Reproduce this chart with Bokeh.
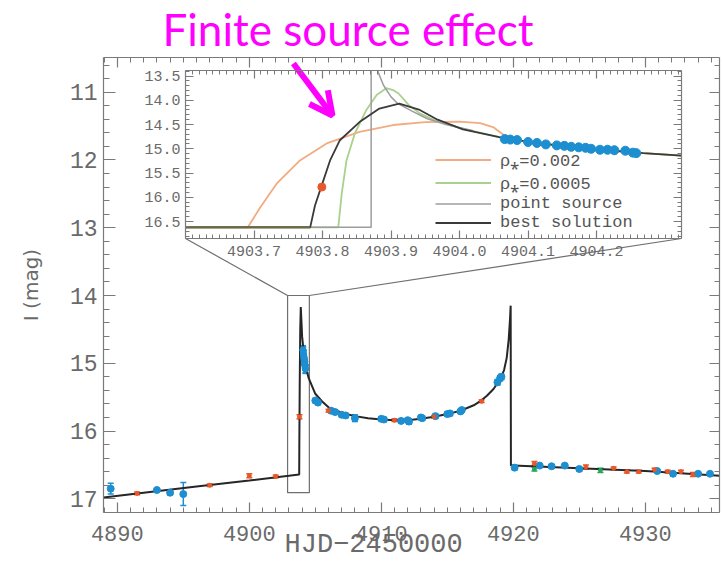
import numpy as np
from bokeh.plotting import figure
from bokeh.models import (Range1d, LinearAxis, SingleIntervalTicker, FixedTicker,
                          PrintfTickFormatter, CustomJSTickFormatter, Whisker, TeeHead,
                          ColumnDataSource, Arrow, OpenHead, Legend, LegendItem, Title)
from bokeh.layouts import column
from bokeh.embed import file_html
from bokeh.resources import INLINE

# ---------------- data: main light curve ----------------
model_x = [4888.955, 4892.0, 4896.0, 4900.0, 4903.0, 4903.78, 4903.79, 4903.82, 4903.86, 4903.9,
           4904.0, 4904.2, 4904.5, 4905.0, 4905.5, 4906.0, 4907.0, 4908.0, 4909.0, 4910.0,
           4911.0, 4912.0, 4913.0, 4914.0, 4915.0, 4916.0, 4917.0, 4917.5, 4918.0, 4918.5,
           4919.0, 4919.3, 4919.5, 4919.65, 4919.75, 4919.8, 4919.82, 4920.0, 4925.0, 4930.0, 4935.62]
model_y = [16.98, 16.91, 16.82, 16.73, 16.66, 16.64, 16.2, 15.3, 14.5, 14.17,
           14.6, 15.0, 15.22, 15.45, 15.56, 15.65, 15.73, 15.78, 15.81, 15.83,
           15.84, 15.84, 15.82, 15.79, 15.75, 15.70, 15.62, 15.56, 15.48, 15.38,
           15.24, 15.10, 14.92, 14.65, 14.35, 14.15, 16.51, 16.51, 16.55, 16.59, 16.66]

blue_x = [4889.5, 4893.0, 4894.0, 4895.0, 4905.0, 4905.2, 4906.2, 4906.5, 4907.0, 4907.3,
          4908.0, 4910.0, 4910.2, 4911.5, 4912.0, 4912.1, 4913.0, 4913.1, 4914.1, 4915.0,
          4915.2, 4916.0, 4916.1, 4918.8, 4919.0, 4919.1, 4920.1, 4922.0, 4922.9, 4923.9,
          4925.0, 4930.9, 4932.1, 4934.0, 4934.9]
blue_y = [16.85, 16.87, 16.91, 16.93, 15.55, 15.58, 15.70, 15.72, 15.76, 15.77,
          15.81, 15.82, 15.83, 15.85, 15.84, 15.86, 15.80, 15.81, 15.78, 15.75,
          15.74, 15.71, 15.69, 15.28, 15.22, 15.20, 16.54, 16.51, 16.52, 16.51,
          16.56, 16.59, 16.63, 16.63, 16.63]
blue_err = [0.08, 0.02, 0.03, 0.17, 0.03, 0.03, 0.03, 0.03, 0.03, 0.03,
            0.05, 0.03, 0.03, 0.03, 0.03, 0.04, 0.03, 0.03, 0.03, 0.03,
            0.03, 0.03, 0.03, 0.04, 0.04, 0.04, 0.03, 0.02, 0.02, 0.02,
            0.03, 0.02, 0.03, 0.02, 0.02]

orange_x = [4891.5, 4897.0, 4900.0, 4902.0, 4903.8, 4906.0, 4911.0, 4914.0, 4917.6, 4921.6,
            4925.5, 4927.6, 4928.6, 4929.5, 4930.7, 4931.7, 4932.7, 4933.6]
orange_y = [16.92, 16.80, 16.66, 16.67, 15.79, 15.70, 15.84, 15.79, 15.56, 16.48,
            16.53, 16.55, 16.60, 16.60, 16.57, 16.60, 16.60, 16.64]
orange_err = [0.02, 0.02, 0.03, 0.02, 0.03, 0.02, 0.02, 0.02, 0.02, 0.03,
              0.03, 0.02, 0.02, 0.02, 0.02, 0.02, 0.02, 0.03]

green_x = [4921.6, 4926.6]
green_y = [16.56, 16.58]
green_err = [0.03, 0.03]

# ---------------- data: inset (caustic entrance) ----------------
best_x = [4903.6, 4903.782, 4903.789, 4903.798, 4903.811, 4903.825, 4903.854, 4903.883, 4903.912,
          4903.942, 4903.968, 4904.005, 4904.058, 4904.111, 4904.163, 4904.216, 4904.268, 4904.324]
best_y = [16.62, 16.62, 16.17, 15.79, 15.24, 14.83, 14.45, 14.17, 14.07,
          14.2, 14.4, 14.6, 14.76, 14.88, 14.96, 15.03, 15.09, 15.14]

rho2_x = [4903.6, 4903.691, 4903.709, 4903.733, 4903.767, 4903.806, 4903.854, 4903.903,
          4903.95, 4904.0, 4904.03, 4904.05, 4904.065, 4904.09, 4904.111, 4904.163, 4904.216,
          4904.268, 4904.324]
rho2_y = [16.62, 16.62, 16.21, 15.72, 15.24, 14.89, 14.65, 14.51,
          14.45, 14.44, 14.47, 14.56, 14.72, 14.83, 14.88, 14.96, 15.03, 15.09, 15.14]

rho05_x = [4903.6, 4903.823, 4903.828, 4903.835, 4903.847, 4903.864, 4903.879, 4903.893,
           4903.903, 4903.911, 4903.926, 4903.942, 4903.963, 4904.0, 4904.058, 4904.111,
           4904.163, 4904.216, 4904.268, 4904.324]
rho05_y = [16.62, 16.62, 15.93, 15.24, 14.69, 14.20, 13.89, 13.75,
           13.79, 13.86, 14.10, 14.27, 14.41, 14.57, 14.76, 14.88,
           14.96, 15.03, 15.09, 15.14]

ps_x1 = [4903.6, 4903.871, 4903.871]
ps_y1 = [16.62, 16.62, 13.2]
ps_x2 = [4903.877, 4903.882, 4903.889, 4903.9, 4903.91, 4903.93, 4903.953, 4903.98, 4904.02]
ps_y2 = [13.2, 13.45, 13.69, 13.93, 14.07, 14.22, 14.38, 14.5, 14.63]

inset_blue_x = [4904.066, 4904.074, 4904.084, 4904.1, 4904.113, 4904.126, 4904.142, 4904.153,
                4904.163, 4904.174, 4904.184, 4904.192, 4904.205, 4904.216, 4904.226, 4904.242,
                4904.253, 4904.258]
inset_blue_y = [14.80, 14.81, 14.82, 14.86, 14.88, 14.91, 14.93, 14.94,
                14.96, 14.97, 14.98, 15.00, 15.02, 15.02, 15.03, 15.04, 15.08, 15.09]
inset_orange_x = [4903.799]
inset_orange_y = [15.79]

legend_labels = ["\u03c1\u204e=0.002", "\u03c1\u204e=0.0005", "point source", "best solution"]
inset_xticks = [4903.7, 4903.8, 4903.9, 4904.0, 4904.1, 4904.2]
x_title = "HJD\u22122450000"

# zoom box and connector (main-plot data coords)
zoom_box = dict(left=4902.9, right=4904.55, top=14.0, bottom=16.91)
inset_corner_left = (4895.17, 13.159)
inset_corner_right = (4932.74, 13.159)
arrow_start = (4903.34, 10.577)
arrow_end = (4906.30, 11.344)

# ---------------- styles ----------------
BLUE = "#1d8fd1"
ORANGE = "#e8572a"
GREEN = "#27a35a"
AX = "#7a7a7a"
TXT = "#6a6a6a"
FONT = "Liberation Mono"


def style_axis(ax, major_in, minor_in, font_size, labels=True):
    ax.major_tick_in = major_in
    ax.major_tick_out = 0
    ax.minor_tick_in = minor_in
    ax.minor_tick_out = 0
    ax.axis_line_color = AX
    ax.major_tick_line_color = AX
    ax.minor_tick_line_color = AX
    ax.axis_line_width = 1.2
    ax.major_tick_line_width = 1.2
    ax.minor_tick_line_width = 1
    ax.major_label_text_font = FONT
    ax.major_label_text_color = TXT
    ax.major_label_text_font_size = font_size
    if not labels:
        ax.formatter = CustomJSTickFormatter(code="return ''")
        ax.major_label_text_font_size = "0px"
        ax.major_label_standoff = 0


# ---------------- main figure ----------------
p = figure(width=721, height=562, output_backend="svg", toolbar_location=None,
           x_range=Range1d(4888.955, 4935.62), y_range=Range1d(17.202, 10.488),
           x_axis_type=None, y_axis_type=None,
           min_border_left=103, min_border_right=2, min_border_top=57, min_border_bottom=50)
p.outline_line_color = None
p.grid.visible = False

p.title.text = "Finite source effect"
p.title.text_font = "Lato"
p.title.text_font_style = "normal"
p.title.text_font_size = "44px"
p.title.text_color = "#ff00ff"
p.title.align = "left"
p.title.offset = 59
p.title.vertical_align = "top"
p.title.standoff = 2

xt = SingleIntervalTicker(interval=10, num_minor_ticks=10)
yt = SingleIntervalTicker(interval=1, num_minor_ticks=5)

xb = LinearAxis(ticker=xt)
style_axis(xb, 10, 5, "22px")
xb.major_label_standoff = 13
p.add_layout(xb, "below")

# x-axis title: a below-title so it can sit left of centre, as in the original
p.add_layout(Title(text=x_title, align="left", offset=181, vertical_align="top",
                   standoff=-28, text_font=FONT, text_font_size="27px",
                   text_font_style="normal", text_color=TXT), "below")

yl = LinearAxis(ticker=yt, axis_label="I (mag)")
style_axis(yl, 12, 6, "23px")
yl.major_label_standoff = 6
yl.axis_label_text_font = "DejaVu Sans"
yl.axis_label_text_font_size = "20px"
yl.axis_label_text_font_style = "normal"
yl.axis_label_text_color = TXT
yl.axis_label_standoff = 24
p.add_layout(yl, "left")

xa = LinearAxis(ticker=SingleIntervalTicker(interval=10, num_minor_ticks=10))
style_axis(xa, 10, 5, "22px", labels=False)
p.add_layout(xa, "above")

yr = LinearAxis(ticker=SingleIntervalTicker(interval=1, num_minor_ticks=5))
style_axis(yr, 10, 5, "22px", labels=False)
p.add_layout(yr, "right")

# zoom box + connectors
p.quad(left=[zoom_box["left"]], right=[zoom_box["right"]], top=[zoom_box["top"]],
       bottom=[zoom_box["bottom"]], fill_alpha=0, line_color="#6f6f6f", line_width=1.2)
p.segment(x0=[zoom_box["left"], zoom_box["right"]], y0=[zoom_box["top"], zoom_box["top"]],
          x1=[inset_corner_left[0], inset_corner_right[0]],
          y1=[inset_corner_left[1], inset_corner_right[1]],
          line_color="#6f6f6f", line_width=1.2)

# model
p.line(model_x, model_y, line_color="#262626", line_width=2)


def add_points(fig, xs, ys, errs, color, size, marker="circle"):
    src = ColumnDataSource(dict(x=xs, y=ys,
                                lo=[y - e for y, e in zip(ys, errs)],
                                hi=[y + e for y, e in zip(ys, errs)]))
    fig.add_layout(Whisker(source=src, base="x", upper="hi", lower="lo", dimension="height",
                           line_color=color, line_width=1.5,
                           upper_head=TeeHead(size=6, line_color=color, line_width=1.5),
                           lower_head=TeeHead(size=6, line_color=color, line_width=1.5)))
    fig.scatter("x", "y", source=src, marker=marker, size=size, fill_color=color,
                line_color=color)


add_points(p, blue_x, blue_y, blue_err, BLUE, 7)
add_points(p, inset_blue_x, inset_blue_y, [0.06] * len(inset_blue_x), BLUE, 6)
add_points(p, orange_x, orange_y, orange_err, ORANGE, 4)
add_points(p, green_x, green_y, green_err, GREEN, 4)

p.add_layout(Arrow(x_start=arrow_start[0], y_start=arrow_start[1],
                   x_end=arrow_end[0], y_end=arrow_end[1],
                   line_color="#ff00ff", line_width=6,
                   end=OpenHead(size=23, line_color="#ff00ff", line_width=6)))

# ---------------- inset figure ----------------
# left/right borders equal the main plot's, because a column aligns plot frames
ins = figure(width=601, height=196, output_backend="svg", toolbar_location=None,
             x_range=Range1d(4903.6, 4904.324), y_range=Range1d(16.85, 13.386),
             x_axis_type=None, y_axis_type=None,
             min_border_left=103, min_border_right=2, min_border_top=2, min_border_bottom=26)
ins.outline_line_color = None
ins.grid.visible = False
ins.background_fill_alpha = 0
ins.border_fill_alpha = 0

ixt_minor = list(np.round(np.arange(4903.60, 4904.325, 0.01), 3))
ixb = LinearAxis(ticker=FixedTicker(ticks=inset_xticks, minor_ticks=ixt_minor),
                 formatter=PrintfTickFormatter(format="%.1f"))
style_axis(ixb, 8, 4, "15px")
ixb.major_label_standoff = 7
ins.add_layout(ixb, "below")

iyl = LinearAxis(ticker=SingleIntervalTicker(interval=0.5, num_minor_ticks=5),
                 formatter=PrintfTickFormatter(format="%.1f"))
style_axis(iyl, 8, 4, "15px")
iyl.major_label_standoff = 5
ins.add_layout(iyl, "left")

ixa = LinearAxis(ticker=FixedTicker(ticks=inset_xticks, minor_ticks=ixt_minor))
style_axis(ixa, 8, 4, "15px", labels=False)
ins.add_layout(ixa, "above")

iyr = LinearAxis(ticker=SingleIntervalTicker(interval=0.5, num_minor_ticks=5))
style_axis(iyr, 8, 4, "15px", labels=False)
ins.add_layout(iyr, "right")

r_rho2 = ins.line(rho2_x, rho2_y, line_color="#f3ab80", line_width=1.8)
r_rho05 = ins.line(rho05_x, rho05_y, line_color="#a9d08c", line_width=1.8)
r_ps = ins.line(ps_x1, ps_y1, line_color="#9d9d9d", line_width=1.5)
ins.line(ps_x2, ps_y2, line_color="#9d9d9d", line_width=1.5)
r_best = ins.line(best_x, best_y, line_color="#3a3a3a", line_width=1.8)
ins.line(best_x[:2], best_y[:2], line_color="#6b6b45", line_width=2)

ins.scatter(inset_blue_x, inset_blue_y, marker="circle", size=9, fill_color=BLUE, line_color=BLUE)
ins.scatter(inset_orange_x, inset_orange_y, marker="circle", size=8, fill_color=ORANGE,
            line_color=ORANGE)

leg = Legend(items=[LegendItem(label=legend_labels[0], renderers=[r_rho2]),
                    LegendItem(label=legend_labels[1], renderers=[r_rho05]),
                    LegendItem(label=legend_labels[2], renderers=[r_ps]),
                    LegendItem(label=legend_labels[3], renderers=[r_best])],
             location=(250, 6))
leg.label_text_font = FONT
leg.label_text_font_size = "17px"
leg.label_text_color = "#555555"
leg.glyph_width = 56
leg.glyph_height = 17
leg.label_height = 17
leg.label_standoff = 9
leg.spacing = 0
leg.padding = 0
leg.margin = 0
leg.background_fill_alpha = 0
leg.border_line_color = None
ins.add_layout(leg)

# inset top-left of the figure box at (82, 68) on the page
ins.margin = (68 - 562, 0, 0, 82)
p.margin = (0, 0, 0, 0)

layout = column(p, ins, spacing=0)
layout.margin = (0, 0, 0, 0)

open("out.html", "w").write(file_html(layout, INLINE))
